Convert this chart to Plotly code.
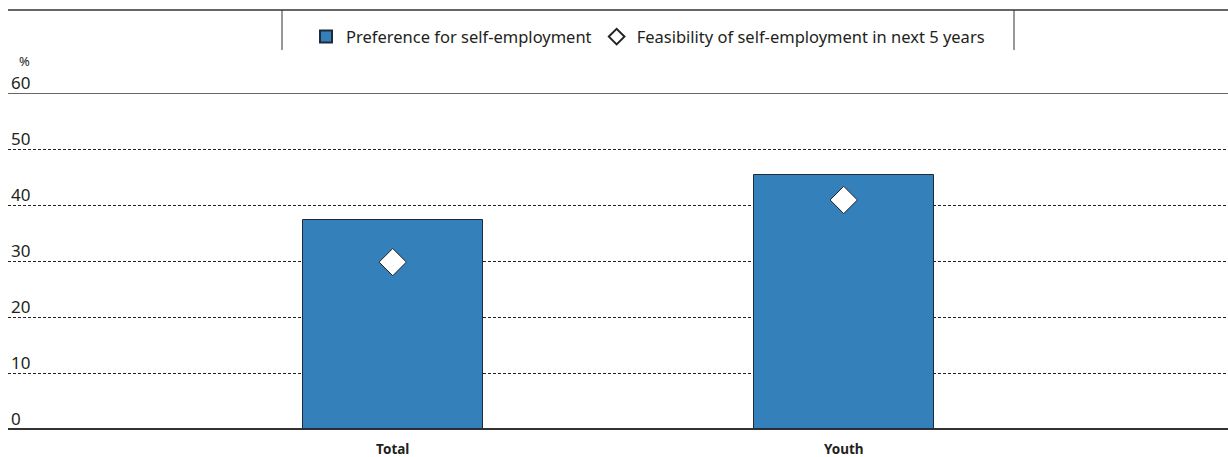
import plotly.graph_objects as go

categories = ["Total", "Youth"]
preference = [37.3, 45.4]
feasibility = [29.8, 40.9]
y_ticks = [0, 10, 20, 30, 40, 50, 60]

BAR_BLUE = "#3480BB"
TEXT = "#231F20"
FONT = "Noto Sans"

fig = go.Figure()
fig.add_trace(go.Bar(
    x=categories, y=preference, name="Preference for self-employment",
    marker=dict(color=BAR_BLUE, line=dict(color="#1E2B3C", width=1)),
    width=0.4,
))
fig.add_trace(go.Scatter(
    x=categories, y=feasibility, mode="markers",
    name="Feasibility of self-employment in next 5 years",
    marker=dict(symbol="diamond", size=21, color="white",
                line=dict(color="#222222", width=1)),
))

fig.update_layout(
    width=1228, height=457,
    margin=dict(l=8, r=0, t=93, b=28),
    plot_bgcolor="white", paper_bgcolor="white",
    font=dict(family=FONT, color=TEXT, size=14),
    showlegend=True,
    legend=dict(orientation="h", x=0.5246, xanchor="center", y=1.167,
                yanchor="middle", font=dict(size=16.5, color=TEXT),
                itemsizing="constant", bgcolor="rgba(0,0,0,0)",
                traceorder="normal"),
    bargap=0,
)
fig.update_xaxes(
    range=[-0.853, 1.852], showgrid=False, ticks="",
    showline=False, zeroline=False, ticklabelstandoff=10,
    tickfont=dict(size=13.5, color=TEXT, family=FONT, weight="bold"),
)
fig.update_yaxes(
    range=[0, 60], tickvals=y_ticks, showticklabels=False,
    showgrid=True, gridcolor="#222222", griddash="3px,2px", gridwidth=1,
    zeroline=True, zerolinecolor="#333333", zerolinewidth=1.5,
    showline=False, ticks="",
)

# value labels sit just above their grid lines at the left edge
for t in y_ticks:
    fig.add_annotation(text=str(t), xref="paper", yref="y", x=0.002, y=t,
                       xanchor="left", yanchor="bottom", yshift=-2,
                       borderpad=0, showarrow=False,
                       font=dict(size=17, color=TEXT))

# solid line along the top of the value scale
fig.add_shape(type="line", xref="paper", yref="y", x0=0, x1=1, y0=60, y1=60,
              line=dict(color="#333333", width=1.5), layer="above")
# frame around the legend
fig.add_shape(type="line", xref="paper", yref="paper", x0=0, x1=1,
              y0=1.247, y1=1.247, line=dict(color="#333333", width=1.5))
for xp in [(282 - 8) / 1220, (1014 - 8) / 1220]:
    fig.add_shape(type="line", xref="paper", yref="paper", x0=xp, x1=xp,
                  y0=1.247, y1=1.128, line=dict(color="#333333", width=1))

fig.add_annotation(text="%", xref="paper", yref="y", x=0.008, y=60,
                   xanchor="left", yanchor="bottom", yshift=22,
                   borderpad=0, showarrow=False,
                   font=dict(size=13, color=TEXT))

fig.write_html("out.html")
